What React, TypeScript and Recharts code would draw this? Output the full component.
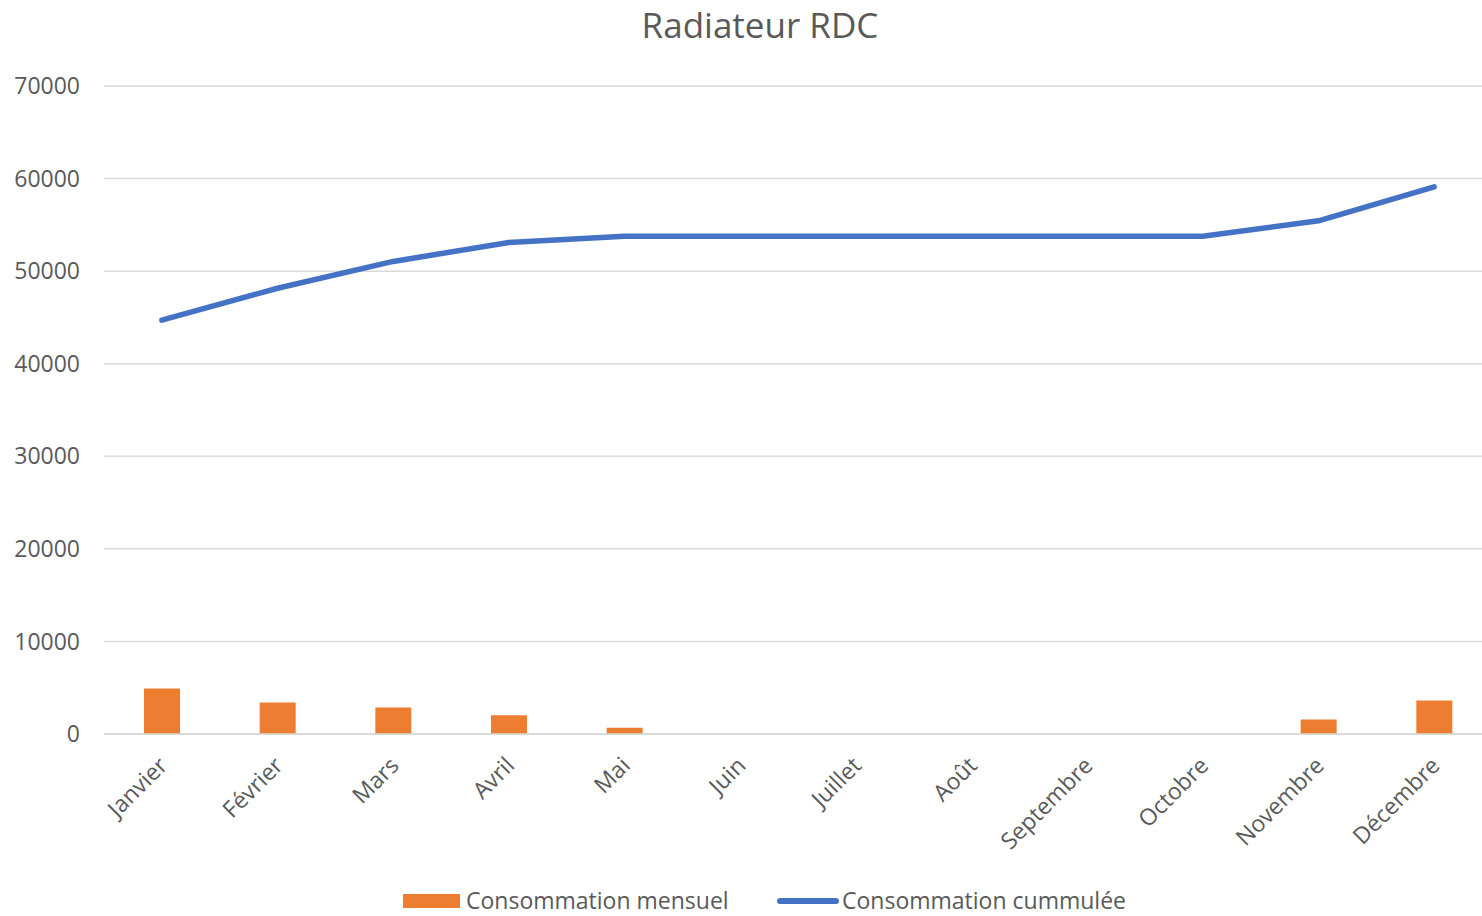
import React from 'react';
import {
  ComposedChart,
  Bar,
  Line,
  XAxis,
  YAxis,
  CartesianGrid,
} from 'recharts';

const months = [
  'Janvier',
  'Février',
  'Mars',
  'Avril',
  'Mai',
  'Juin',
  'Juillet',
  'Août',
  'Septembre',
  'Octobre',
  'Novembre',
  'Décembre',
];

// monthly consumption (bars)
const monthly = [4920, 3400, 2870, 2030, 670, 0, 0, 0, 0, 0, 1570, 3620];

// cumulative consumption (line)
const cumulative = [44700, 48150, 51050, 53100, 53780, 53780, 53780, 53780, 53780, 53780, 55440, 59100];

const yTicks = [0, 10000, 20000, 30000, 40000, 50000, 60000, 70000];

const TEXT = '#595959';
const FONT = '"Open Sans", sans-serif';

const chartData = months.map((name, i) => ({
  name,
  mensuel: monthly[i],
  cumul: cumulative[i],
}));

const MonthTick = ({ x, y, payload }: any) => (
  <g transform={`translate(${x + 7}, ${y + 33})`}>
    <text
      x={0}
      y={0}
      transform="rotate(-45)"
      textAnchor="end"
      fill={TEXT}
      fontSize={23}
      fontFamily={FONT}
    >
      {payload.value}
    </text>
  </g>
);

export default function App() {
  return (
    <div
      style={{
        position: 'absolute',
        left: 0,
        top: 0,
        width: 1482,
        height: 916,
        overflow: 'hidden',
        background: '#fff',
      }}
    >
      <ComposedChart
        width={1492}
        height={916}
        data={chartData}
        margin={{ top: 86, right: 0, left: 0, bottom: 0 }}
      >
        <CartesianGrid vertical={false} stroke="#D9D9D9" strokeWidth={1.5} />
        <XAxis
          dataKey="name"
          height={182}
          interval={0}
          tickLine={false}
          tickSize={0}
          tickMargin={0}
          axisLine={{ stroke: '#D9D9D9', strokeWidth: 1.5 }}
          tick={<MonthTick />}
        />
        <YAxis
          width={104}
          domain={[0, 70000]}
          ticks={yTicks}
          axisLine={false}
          tickLine={false}
          tickSize={0}
          tickMargin={24}
          tick={{ fill: TEXT, fontSize: 23, fontFamily: FONT }}
        />
        <Bar dataKey="mensuel" fill="#ED7D31" barSize={36} isAnimationActive={false} />
        <Line
          dataKey="cumul"
          type="linear"
          stroke="#4472C4"
          strokeWidth={5.5}
          strokeLinecap="round"
          strokeLinejoin="round"
          dot={false}
          activeDot={false}
          isAnimationActive={false}
        />
      </ComposedChart>

      <svg
        width={1482}
        height={916}
        style={{ position: 'absolute', left: 0, top: 0, pointerEvents: 'none' }}
      >
        <text x={760} y={38} textAnchor="middle" fill={TEXT} fontSize={35} fontFamily={FONT}>
          Radiateur RDC
        </text>
        <rect x={403} y={894} width={57} height={14} fill="#ED7D31" />
        <text x={466} y={909} fill={TEXT} fontSize={23} fontFamily={FONT}>
          Consommation mensuel
        </text>
        <line x1={780} y1={901} x2={836} y2={901} stroke="#4472C4" strokeWidth={6} strokeLinecap="round" />
        <text x={842} y={909} fill={TEXT} fontSize={23} fontFamily={FONT}>
          Consommation cummulée
        </text>
      </svg>
    </div>
  );
}
